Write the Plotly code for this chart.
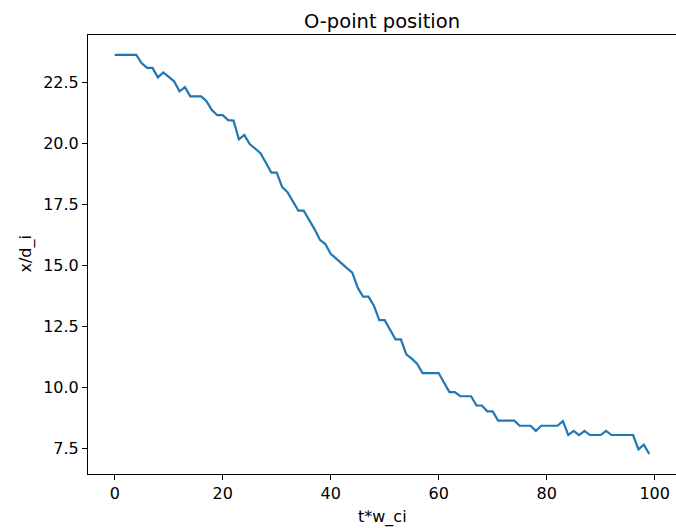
import plotly.graph_objects as go

t_values = list(range(100))
x_over_di = [
    23.62, 23.62, 23.62, 23.62, 23.62, 23.28, 23.09, 23.09, 22.70, 22.90,
    22.72, 22.54, 22.13, 22.30, 21.92, 21.92, 21.92, 21.72, 21.36, 21.15,
    21.15, 20.95, 20.93, 20.16, 20.34, 19.97, 19.78, 19.59, 19.20, 18.80,
    18.80, 18.21, 17.99, 17.63, 17.24, 17.24, 16.87, 16.48, 16.04, 15.87,
    15.47, 15.26, 15.08, 14.88, 14.70, 14.08, 13.71, 13.71, 13.34, 12.75,
    12.75, 12.36, 11.96, 11.96, 11.35, 11.17, 10.96, 10.58, 10.58, 10.58,
    10.58, 10.18, 9.80, 9.80, 9.63, 9.63, 9.63, 9.25, 9.25, 9.01,
    9.01, 8.63, 8.63, 8.63, 8.63, 8.42, 8.42, 8.42, 8.21, 8.42,
    8.42, 8.42, 8.42, 8.61, 8.04, 8.21, 8.04, 8.21, 8.04, 8.04,
    8.04, 8.21, 8.04, 8.04, 8.04, 8.04, 8.04, 7.45, 7.64, 7.26,
]
x_ticks = [0, 20, 40, 60, 80, 100]
y_ticks = [7.5, 10.0, 12.5, 15.0, 17.5, 20.0, 22.5]
y_tick_labels = ["7.5", "10.0", "12.5", "15.0", "17.5", "20.0", "22.5"]

font = dict(family="DejaVu Sans", size=16, color="black")

fig = go.Figure()
fig.add_trace(go.Scatter(x=t_values, y=x_over_di, mode="lines",
                         line=dict(color="#1f77b4", width=2.2)))

xspan = max(t_values) - min(t_values)
yspan = max(x_over_di) - min(x_over_di)

fig.update_layout(
    width=676, height=528,
    margin=dict(l=88, r=0, t=35, b=54),
    paper_bgcolor="white", plot_bgcolor="white",
    showlegend=False,
    font=font,
    title=dict(text="O-point position", x=0.5, xref="paper", y=1 - 21 / 528,
               yref="container", xanchor="center", yanchor="middle",
               font=dict(family="DejaVu Sans", size=19.5, color="black")),
)
fig.update_xaxes(
    range=[min(t_values) - 0.05 * xspan, max(t_values) + 0.05 * xspan],
    tickvals=x_ticks, ticks="outside", ticklen=5, tickwidth=1, tickcolor="black",
    showline=True, linecolor="black", linewidth=1, mirror=True,
    showgrid=False, zeroline=False, tickfont=font,
)
fig.update_yaxes(
    range=[min(x_over_di) - 0.05 * yspan, max(x_over_di) + 0.05 * yspan],
    tickvals=y_ticks, ticktext=y_tick_labels,
    ticks="outside", ticklen=5, tickwidth=1, tickcolor="black",
    showline=True, linecolor="black", linewidth=1, mirror=True,
    showgrid=False, zeroline=False, tickfont=font,
)
fig.add_annotation(text="t*w_ci", xref="paper", yref="paper", x=0.5, y=0,
                   yshift=-43, xanchor="center", yanchor="middle",
                   showarrow=False, font=font)
fig.add_annotation(text="x/d_i", xref="paper", yref="paper", x=0, y=0.5,
                   xshift=-63, xanchor="center", yanchor="middle", textangle=-90,
                   showarrow=False, font=font)

fig.write_html("out.html")
